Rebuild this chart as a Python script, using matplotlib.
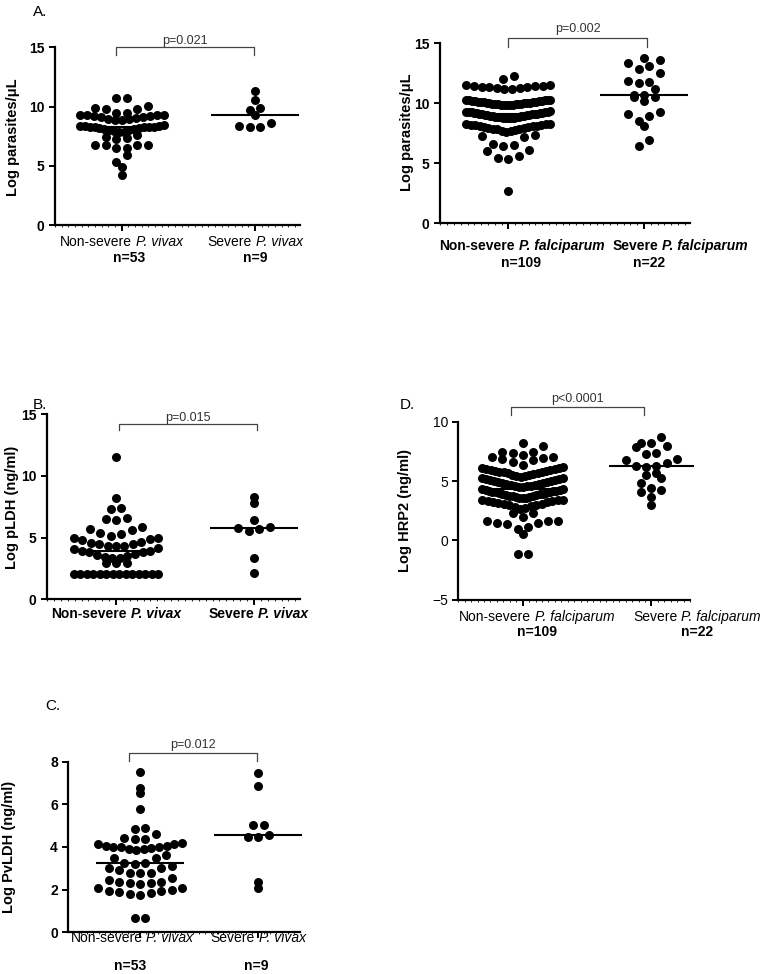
import matplotlib
matplotlib.use("Agg")
import matplotlib.pyplot as plt
import numpy as np
from matplotlib.offsetbox import TextArea, HPacker, AnnotationBbox

plt.rcParams['font.family'] = ['Liberation Sans', 'DejaVu Sans']

W, H = 770, 974

# ---- data ----
# A. parasitaemia, P. vivax
para_vivax_nonsev = [10.7, 10.7,
                     10.07, 9.9, 9.76, 9.76, 9.48, 9.48,
                     9.32, 9.3, 9.3, 9.28, 9.25, 9.2, 9.15, 9.1, 9.05, 9.0, 8.95, 8.9, 8.85,
                     8.42, 8.4, 8.38, 8.35, 8.32, 8.3, 8.3, 8.28, 8.25, 8.22, 8.2, 8.15, 8.1,
                     8.05, 8.0, 7.95, 7.9, 7.85,
                     7.6, 7.46, 7.37, 7.27, 6.8, 6.8, 6.77, 6.77, 6.48, 6.48, 5.9, 5.3, 4.93, 4.23]
para_vivax_sev = [11.3, 10.6, 9.85, 9.7, 9.28, 8.58, 8.36, 8.3, 8.3]

# A. parasitaemia, P. falciparum
para_falc_nonsev = [12.27, 12.03,
                    11.55, 11.52, 11.48, 11.45, 11.42, 11.39, 11.35, 11.32, 11.29, 11.26, 11.23, 11.2,
                    10.3, 10.28, 10.27, 10.25, 10.24, 10.22, 10.2, 10.18, 10.17, 10.15,
                    10.13, 10.12, 10.1, 10.08, 10.06, 10.05, 10.03, 10.02, 10.0, 9.98,
                    9.97, 9.95, 9.94, 9.93, 9.91, 9.9, 9.89, 9.88, 9.87, 9.86,
                    9.32, 9.3, 9.29, 9.27, 9.25, 9.24, 9.22, 9.2, 9.18, 9.16,
                    9.15, 9.13, 9.11, 9.09, 9.07, 9.05, 9.03, 9.01, 8.99, 8.97,
                    8.95, 8.93, 8.91, 8.89, 8.87, 8.85, 8.83, 8.82, 8.8, 8.79,
                    8.78, 8.77, 8.76,
                    8.3, 8.28, 8.25, 8.22, 8.2, 8.17, 8.14, 8.11, 8.08, 8.05,
                    8.02, 7.98, 7.94, 7.9, 7.86, 7.82, 7.76, 7.72, 7.68, 7.63,
                    7.4, 7.3, 7.2, 6.6, 6.5, 6.47, 6.1, 6.05, 5.6, 5.47, 5.36, 2.72]
para_falc_sev = [13.75, 13.6, 13.33, 13.13, 12.9, 12.5, 11.86, 11.8, 11.67, 11.19, 10.7,
                 10.69, 10.55, 10.5, 10.22, 9.3, 9.1, 8.97, 8.53, 8.1, 6.94, 6.47]

# B. pLDH, P. vivax
pldh_nonsev = [11.52, 8.24, 7.43, 7.32, 6.62, 6.51, 6.43, 5.89, 5.7, 5.62, 5.35, 5.27, 5.16,
               5.0, 4.98, 4.87, 4.8, 4.67, 4.6, 4.5, 4.48, 4.35, 4.32, 4.3,
               4.13, 4.1, 3.9, 3.88, 3.86, 3.8, 3.7, 3.6, 3.55, 3.45, 3.35, 3.32,
               2.97, 2.95, 2.92,
               2.05, 2.05, 2.05, 2.05, 2.05, 2.05, 2.05, 2.05, 2.05, 2.05, 2.05, 2.05, 2.05, 2.05]
pldh_sev = [8.32, 7.78, 6.43, 5.84, 5.76, 5.7, 5.56, 3.37, 2.1]

# D. HRP2, P. falciparum
hrp2_nonsev = [8.22, 7.94, 7.46, 7.44, 7.33, 7.19, 7.04, 6.99, 6.96, 6.82, 6.76, 6.62, 6.34,
               6.15, 6.12, 6.08, 6.04, 6.0, 5.96, 5.92, 5.88, 5.84, 5.8,
               5.76, 5.72, 5.68, 5.64, 5.6, 5.55, 5.5, 5.45, 5.4, 5.36,
               5.25, 5.22, 5.18, 5.14, 5.1, 5.06, 5.02, 4.98, 4.94, 4.9,
               4.86, 4.82, 4.78, 4.74, 4.7, 4.66, 4.62, 4.58, 4.54, 4.5, 4.47,
               4.33, 4.3, 4.27, 4.24, 4.2, 4.17, 4.14, 4.1, 4.07, 4.04,
               4.0, 3.97, 3.94, 3.9, 3.87, 3.84, 3.8, 3.77, 3.74, 3.7,
               3.67, 3.64, 3.61, 3.58, 3.56,
               3.42, 3.4, 3.36, 3.32, 3.28, 3.24, 3.2, 3.15, 3.1, 3.05,
               3.0, 2.95, 2.88, 2.8, 2.72, 2.66,
               2.33, 2.33, 1.94, 1.65, 1.65, 1.65, 1.48, 1.43, 1.37, 1.15, 0.95, 0.53,
               -1.18, -1.18]
hrp2_sev = [8.73, 8.22, 8.22, 7.94, 7.89, 7.38, 7.27, 6.82, 6.76, 6.49, 6.28, 6.25, 6.2,
            5.64, 5.5, 5.22, 4.8, 4.43, 4.24, 4.1, 3.67, 2.97]

# C. PvLDH, P. vivax
pvldh_nonsev = [7.53, 6.75, 6.52, 5.77, 4.9, 4.83, 4.61,
                4.4, 4.36, 4.36,
                4.18, 4.15, 4.12, 4.06, 4.05, 4.0, 3.98, 3.98, 3.95, 3.92, 3.9, 3.86,
                3.62, 3.5, 3.5,
                3.27, 3.27, 3.2, 3.1, 3.0, 3.0, 2.77,
                2.9, 2.8, 2.77, 2.56, 2.45, 2.37, 2.37, 2.33, 2.3, 2.27,
                2.1, 2.06, 1.98, 1.95, 1.94, 1.9, 1.83, 1.8, 1.75,
                0.66, 0.66]
pvldh_sev = [7.48, 6.88, 5.03, 5.03, 4.56, 4.45, 4.45, 2.37, 2.06]

vivax_names = ["Non-severe", "P. vivax", "Severe", "P. vivax"]
falc_names = ["Non-severe", "P. falciparum", "Severe", "P. falciparum"]
vivax_n = ["n=53", "n=9"]
falc_n = ["n=109", "n=22"]


fig = plt.figure(figsize=(W / 100, H / 100), dpi=100)


def swarm_x(vals, center, bin_w, bin0, unit_px, step_px=10.5, max_px=84):
    # prism-like scatter: bin by y, lowest value of each bin in the middle
    vals = np.asarray(vals, float)
    xs = np.zeros(len(vals))
    bins = np.floor((vals - bin0) / bin_w + 1e-9).astype(int)
    for b in np.unique(bins):
        idx = np.where(bins == b)[0]
        idx = idx[np.argsort(vals[idx], kind='stable')]
        n = len(idx)
        step = step_px if n < 2 else min(step_px, max_px / (n - 1))
        slots = (np.arange(n) - (n - 1) / 2) * step
        order = sorted(range(n), key=lambda j: (abs(slots[j]), slots[j]))
        for k, j in enumerate(order):
            xs[idx[k]] = center + slots[j] / unit_px
    return xs


def panel(box, ticks_px, ylim, yticks, groups, bins, names, ns, ylabel, ylab_px,
          letter, letter_px, ptext, pbr, name_y, n_y, lab_x,
          tick_bold=True, name_bold=True):
    x0, x1, yb, yt = box
    t0, t1 = ticks_px
    unit = t1 - t0
    ax = fig.add_axes([x0 / W, 1 - yb / H, (x1 - x0) / W, (yb - yt) / H])
    ax.set_xlim(-(t0 - x0) / unit, 1 + (x1 - t1) / unit)
    ax.set_ylim(*ylim)
    ax.set_yticks(yticks)
    ax.set_xticks([0, 1])
    ax.set_xticklabels([])
    ax.set_xticks(np.arange(-0.5, 1.35, 0.05), minor=True)
    for s in ['top', 'right']:
        ax.spines[s].set_visible(False)
    for s in ['left', 'bottom']:
        ax.spines[s].set_linewidth(1.6)
    ax.tick_params(axis='both', which='major', length=4, width=1.4, labelsize=10)
    ax.tick_params(axis='x', which='minor', length=1.6, width=0.6)
    for lab in ax.get_yticklabels():
        lab.set_fontweight('bold' if tick_bold else 'normal')

    hw = 44 / unit
    for gi, vals in enumerate(groups):
        xs = swarm_x(vals, gi, bins[0], bins[1], unit)
        ax.scatter(xs, vals, s=42, color='black', linewidths=0, zorder=3, clip_on=False)
        m = np.median(vals)
        ax.plot([gi - hw, gi + hw], [m, m], color='black', lw=1.5, zorder=2,
                solid_capstyle='butt', clip_on=False)

    # p-value bracket
    xl, xr, ytop, ylo, ytxt = pbr
    ax.plot([xl, xl, xr, xr], [ylo, ytop, ytop, ylo], color='#444444', lw=0.9,
            clip_on=False)
    ax.text((xl + xr) / 2, ytxt, ptext, ha='center', va='center', fontsize=9,
            color='#333333')

    # category labels: plain part + italic species name
    w = 'bold' if name_bold else 'normal'
    for gi in range(2):
        a = TextArea(names[2 * gi], textprops=dict(fontsize=10, fontweight=w))
        b = TextArea(names[2 * gi + 1],
                     textprops=dict(fontsize=10, fontweight=w, fontstyle='italic'))
        pk = HPacker(children=[a, b], align='baseline', pad=0, sep=2.8)
        ab = AnnotationBbox(pk, (lab_x[gi], H - name_y), xycoords='figure pixels',
                            frameon=False, box_alignment=(0.5, 0.5), pad=0,
                            annotation_clip=False)
        fig.add_artist(ab)
        if ns is not None:
            fig.text(lab_x[2 + gi] / W, 1 - n_y / H, ns[gi], ha='center', va='center',
                     fontsize=10, fontweight='bold')

    fig.text(ylab_px[0] / W, 1 - ylab_px[1] / H, ylabel, rotation=90, ha='center',
             va='center', fontsize=10.5, fontweight='bold')
    if letter:
        fig.text(letter_px[0] / W, 1 - letter_px[1] / H, letter, ha='left',
                 va='center', fontsize=11)
    return ax


# A. (vivax parasitaemia)
panel((55, 300, 225.3, 47.3), (121.7, 255), (0, 15), [0, 5, 10, 15],
      [para_vivax_nonsev, para_vivax_sev], (0.85, 8.6), vivax_names, vivax_n,
      "Log parasites/\u03bcL", (13.5, 137), "A.", (33, 12),
      "p=0.021", (-0.04, 0.99, 15.0, 14.35, 15.55), 241.7, 258.5,
      (121.7, 255, 129, 255), tick_bold=True, name_bold=False)

# A. (falciparum parasitaemia)
panel((440, 690, 223.3, 43.3), (508.3, 644), (0, 15), [0, 5, 10, 15],
      [para_falc_nonsev, para_falc_sev], (1.05, 7.45), falc_names, falc_n,
      "Log parasites/\u03bcL", (407, 132), None, None,
      "p=0.002", (0.0, 1.02, 15.42, 14.72, 16.2), 246, 263,
      (522, 680, 521, 649), tick_bold=True, name_bold=True)

# B. pLDH
panel((46.7, 300, 599.3, 414.3), (116, 254), (0, 15), [0, 5, 10, 15],
      [pldh_nonsev, pldh_sev], (0.9, 5.1), vivax_names, None,
      "Log pLDH (ng/ml)", (12.5, 507), "B.", (33, 405),
      "p=0.015", (0.02, 1.02, 14.2, 13.7, 14.7), 614, None,
      (116, 258), tick_bold=True, name_bold=True)

# D. HRP2
panel((458.3, 690, 599.7, 421.7), (524, 657.7), (-5, 10), [-5, 0, 5, 10],
      [hrp2_nonsev, hrp2_sev], (0.9, 6.2), falc_names, falc_n,
      "Log HRP2 (ng/ml)", (405, 510), "D.", (400, 405),
      "p<0.0001", (-0.09, 0.94, 11.2, 10.56, 11.9), 616.7, 632,
      (537, 697, 537, 697), tick_bold=False, name_bold=False)

# C. PvLDH
panel((68.3, 300, 932.3, 761.7), (140, 258.3), (0, 8), [0, 2, 4, 6, 8],
      [pvldh_nonsev, pvldh_sev], (0.5, 2.2), vivax_names, vivax_n,
      "Log PvLDH (ng/ml)", (9, 847), "C.", (45, 706),
      "p=0.012", (-0.09, 0.99, 8.39, 8.04, 8.78), 938.3, 966.5,
      (132, 258, 130, 256), tick_bold=True, name_bold=False)

fig.savefig("out.png", dpi=100)
